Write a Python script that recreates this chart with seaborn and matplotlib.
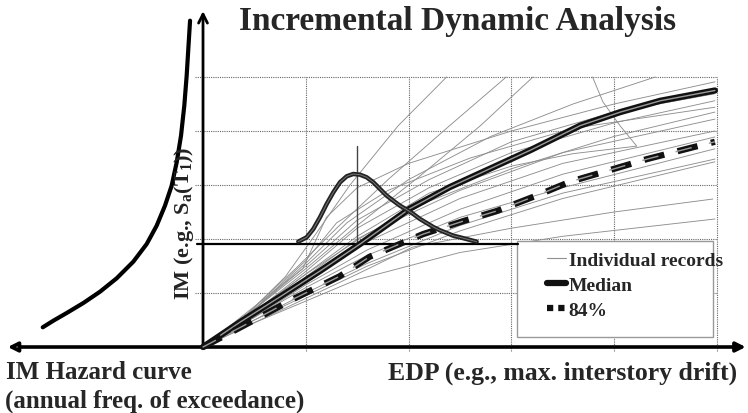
# Schematic of an Incremental Dynamic Analysis (IDA) with the IM hazard curve on the left

import numpy as np
import pandas as pd
from matplotlib import pyplot as plt
from matplotlib.lines import Line2D
from matplotlib.patches import Rectangle
import seaborn as sns

# Data (grid units: one EDP cell = 1, one IM cell = 1)

records = [
    [(0, 0), (0.4, 0.55), (0.8, 1.3), (1.1, 2.1), (1.43, 3.0), (1.9, 4.1), (2.37, 5.0)],
    [(0, 0), (0.45, 0.65), (0.9, 1.45), (1.3, 2.2), (1.8, 3.1), (2.4, 4.1), (2.95, 5.0)],
    [(0, 0), (0.5, 0.7), (1.0, 1.45), (1.5, 2.25), (2.1, 3.15), (2.7, 4.1), (3.21, 5.0)],
    [(0, 0), (0.5, 0.65), (1.0, 1.35), (1.5, 2.05), (2.2, 2.85), (3.0, 3.35), (3.6, 3.58),
     (4.22, 3.72), (4.06, 4.09), (3.89, 4.54), (3.79, 5.0)],
    [(0, 0), (0.5, 0.75), (0.97, 1.45), (1.2, 2.4), (1.5, 2.95), (2.0, 3.4), (3.0, 4.0), (4.0, 4.5), (4.98, 4.91)],
    [(0, 0), (0.5, 0.7), (1.0, 1.55), (1.4, 2.3), (2.0, 3.1), (2.8, 3.9), (3.6, 4.5), (4.4, 5.0)],
    [(0, 0), (0.5, 0.7), (1.0, 1.5), (1.5, 2.35), (2.2, 3.1), (3.0, 3.8), (4.0, 4.35), (4.98, 4.69)],
    [(0, 0), (0.5, 0.65), (1.0, 1.4), (1.5, 2.2), (2.2, 2.95), (3.0, 3.6), (4.0, 4.15), (4.98, 4.56)],
    [(0, 0), (0.5, 0.7), (1.0, 1.6), (1.3, 2.3), (1.8, 2.9), (2.6, 3.5), (3.6, 4.05), (4.98, 4.44)],
    [(0, 0), (0.5, 0.6), (1.0, 1.3), (1.5, 2.0), (2.2, 2.7), (3.0, 3.3), (4.0, 3.9), (4.98, 4.35)],
    [(0, 0), (0.5, 0.65), (1.0, 1.35), (1.6, 2.1), (2.5, 2.9), (3.5, 3.6), (4.98, 4.22)],
    [(0, 0), (0.5, 0.6), (1.0, 1.25), (1.6, 1.95), (2.5, 2.75), (3.5, 3.4), (4.98, 4.0)],
    [(0, 0), (0.5, 0.55), (1.0, 1.15), (1.6, 1.8), (2.5, 2.55), (3.5, 3.2), (4.98, 3.89)],
    [(0, 0), (0.5, 0.55), (1.0, 1.1), (1.6, 1.7), (2.5, 2.4), (3.5, 2.95), (4.98, 3.67)],
    [(0, 0), (0.5, 0.5), (1.0, 1.0), (1.6, 1.55), (2.5, 2.25), (3.5, 2.85), (4.98, 3.48)],
    [(0, 0), (0.5, 0.5), (1.0, 0.95), (1.6, 1.5), (2.5, 2.15), (3.5, 2.75), (4.98, 3.43)],
    [(0, 0), (0.5, 0.45), (1.0, 0.9), (1.5, 1.35), (2.04, 1.85), (3.0, 2.2), (4.0, 2.5), (4.96, 2.74)],
    [(0, 0), (0.5, 0.45), (1.0, 0.85), (1.5, 1.25), (2.5, 1.75), (3.5, 2.05), (4.98, 2.37)],
]

median_edp = [0, 0.36, 0.75, 1.14, 1.53, 2.01, 2.40, 2.79, 3.18, 3.67, 4.06, 4.45, 4.98]
median_im = [0, 0.46, 0.93, 1.41, 1.91, 2.56, 2.96, 3.30, 3.64, 4.10, 4.35, 4.56, 4.75]

p84_edp = [0, 0.39, 0.88, 1.33, 1.62, 2.14, 2.53, 2.86, 3.28, 3.57, 3.93, 4.32, 4.77, 4.98]
p84_im = [0, 0.39, 0.89, 1.31, 1.67, 2.09, 2.33, 2.52, 2.83, 3.06, 3.26, 3.48, 3.70, 3.80]

pdf_edp = [0.927, 1.009, 1.073, 1.138, 1.203, 1.268, 1.333, 1.398, 1.462, 1.527, 1.592, 1.657, 1.722,
           1.787, 1.851, 1.916, 1.982, 2.046, 2.111, 2.176, 2.240, 2.305, 2.371, 2.435, 2.500, 2.662]
pdf_im = [1.951, 2.032, 2.185, 2.402, 2.648, 2.865, 3.050, 3.161, 3.204, 3.191, 3.143, 3.050, 2.926,
          2.802, 2.709, 2.617, 2.543, 2.463, 2.370, 2.296, 2.222, 2.161, 2.111, 2.061, 2.031, 1.950]

hazard_freq = [-1.559, -1.456, -1.326, -1.164, -1.002, -0.840, -0.678, -0.548, -0.451,
               -0.370, -0.305, -0.256, -0.214, -0.182, -0.159, -0.143, -0.126]
hazard_im = [0.365, 0.487, 0.630, 0.815, 1.024, 1.272, 1.580, 1.907, 2.246,
             2.617, 2.987, 3.420, 3.913, 4.469, 5.024, 5.519, 6.043]

im_level = 1.9
median_at_level = 1.5
grid_ticks = [1, 2, 3, 4, 5]

legend_labels = ['Individual records', 'Median', '84%']

# Long table of the individual records for seaborn

rows = []
for k, rec in enumerate(records):
    for e, im in rec:
        rows.append({'rec': k, 'edp': e, 'im': im})
df_rec = pd.DataFrame(rows)

# Style

sns.set_style('white')
plt.rcParams['font.family'] = ['Liberation Serif', 'DejaVu Serif']
plt.rcParams['mathtext.fontset'] = 'custom'
plt.rcParams['mathtext.rm'] = 'Liberation Serif:bold'
plt.rcParams['mathtext.it'] = 'Liberation Serif:bold:italic'
plt.rcParams['mathtext.bf'] = 'Liberation Serif:bold'

fig = plt.figure(figsize=(7.48, 4.14), dpi=100)
ax = fig.add_axes([0, 0, 1, 1])
ax.set_xlim(-1.975, 5.302)
ax.set_ylim(-1.222, 6.444)
ax.axis('off')

# Grid

grid_kw = dict(color='#666666', lw=0.8, ls=(0, (1, 1)), zorder=1)
ax.hlines(grid_ticks, -0.08, grid_ticks[-1], **grid_kw)
ax.vlines(grid_ticks, -0.08, grid_ticks[-1], **grid_kw)

# Individual records

sns.lineplot(data=df_rec, x='edp', y='im', units='rec', estimator=None, sort=False,
             color='#8f8f8f', lw=0.65, ax=ax, zorder=2, legend=False)

# Legend box (white, covers records)

ax.add_patch(Rectangle((3.05, 0.185), 1.91, 1.775, facecolor='white', edgecolor='#999999',
                       lw=1.0, zorder=3))

# IM level line and the EDP distribution at that level

ax.plot([-0.06, 3.06], [im_level, im_level], color='black', lw=1.6, zorder=4)
ax.plot([median_at_level, median_at_level], [im_level, 3.72], color='#444444', lw=1.0, zorder=4)
sns.lineplot(x=pdf_edp, y=pdf_im, sort=False, color='#222222', lw=3.2, ax=ax, zorder=6)
sns.lineplot(x=pdf_edp, y=pdf_im, sort=False, color='#777777', lw=0.7, ax=ax, zorder=6)

# Median and 84% curves (cased lines)

sns.lineplot(x=median_edp, y=median_im, sort=False, color='#111111', lw=4.5, ax=ax, zorder=5)
sns.lineplot(x=median_edp, y=median_im, sort=False, color='#9a9a9a', lw=1.0, ax=ax, zorder=5)
sns.lineplot(x=p84_edp, y=p84_im, sort=False, color='#111111', lw=4.5, ls=(0, (3.3, 2.2)), ax=ax, zorder=5)
sns.lineplot(x=p84_edp, y=p84_im, sort=False, color='#9a9a9a', lw=1.0, ls=(1.5, (12, 12.75)), ax=ax, zorder=5)

# Hazard curve

sns.lineplot(x=hazard_freq, y=hazard_im, sort=False, color='black', lw=3.0, ax=ax, zorder=5)

# Axes arrows

ax.annotate('', xy=(0, 6.22), xytext=(0, 0),
            arrowprops=dict(arrowstyle='->', lw=2.0, color='black', shrinkA=0, shrinkB=0, mutation_scale=16))
ax.annotate('', xy=(5.28, 0), xytext=(0, 0),
            arrowprops=dict(arrowstyle='-|>', lw=2.6, color='black', shrinkA=0, shrinkB=0, mutation_scale=14))
ax.annotate('', xy=(-1.90, 0), xytext=(0, 0),
            arrowprops=dict(arrowstyle='-|>', lw=2.6, color='black', fc='#888888', shrinkA=0, shrinkB=0,
                            mutation_scale=14))

# Legend

handles = [Line2D([], [], color='#8f8f8f', lw=0.8),
           Line2D([], [], color='#111111', lw=4.5),
           Line2D([], [], color='#111111', lw=4.5, ls=(0, (1, 0.8)))]
leg = ax.legend(handles, legend_labels, loc='upper left', bbox_to_anchor=(3.35, 1.77),
                bbox_transform=ax.transData, frameon=False, borderpad=0, borderaxespad=0,
                handlelength=0.95, handletextpad=0.15, labelspacing=0.38,
                prop={'family': 'Liberation Serif', 'weight': 'bold', 'size': 14})
leg.set_zorder(7)

# Text

ax.text(2.48, 6.04, 'Incremental Dynamic Analysis', ha='center', va='center',
        fontsize=24, fontweight='bold')
ax.text(-0.185, 2.30, r'IM (e.g., S$_\mathrm{a}$(T$_\mathrm{1}$))', ha='center', va='center',
        rotation=90, fontsize=16, fontweight='bold', color='#222222', zorder=6)
ax.text(-1.92, -0.46, 'IM Hazard curve', ha='left', va='center', fontsize=18, fontweight='bold')
ax.text(-1.93, -0.99, '(annual freq. of exceedance)', ha='left', va='center', fontsize=18, fontweight='bold')
ax.text(3.50, -0.46, 'EDP (e.g., max. interstory drift)', ha='center', va='center',
        fontsize=18.5, fontweight='bold')

plt.savefig('out.png', dpi=100)
